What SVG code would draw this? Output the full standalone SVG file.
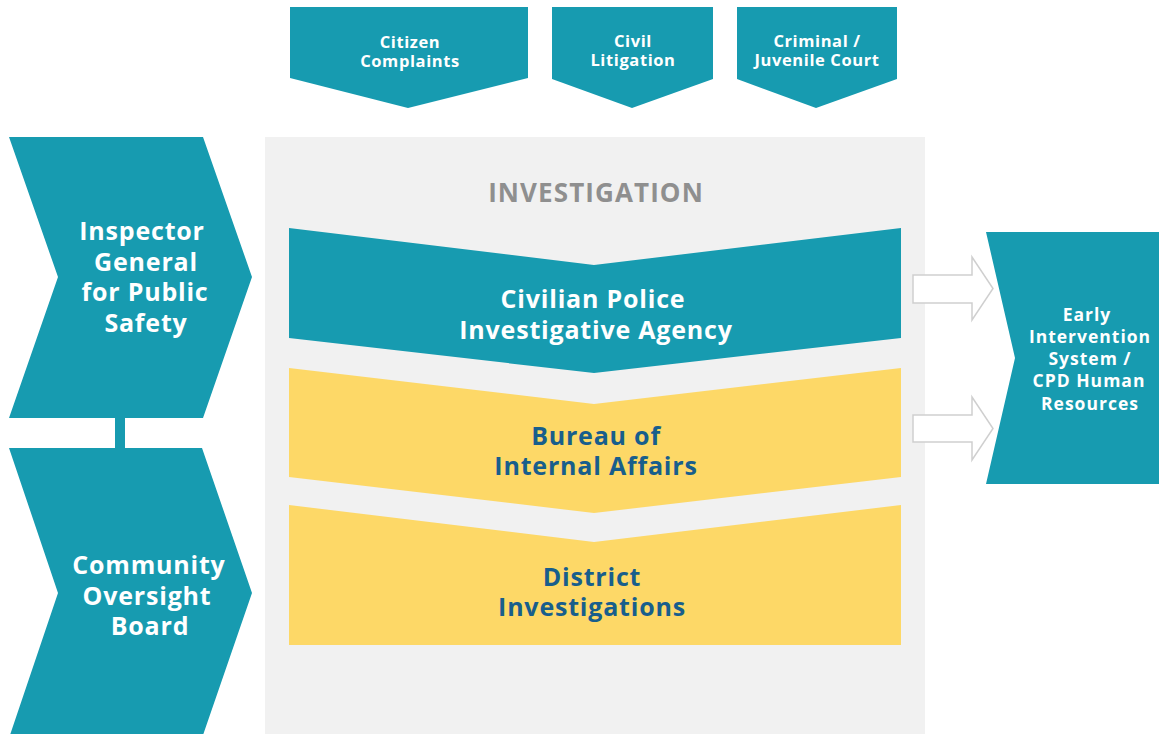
<svg xmlns="http://www.w3.org/2000/svg" width="1159" height="734" viewBox="0 0 1159 734">
<style>
.teal{fill:#179bb0}
.yellow{fill:#fdd867}
.w{font-family:"Open Sans","Liberation Sans",sans-serif;font-weight:700;fill:#ffffff;text-anchor:middle}
.b{font-family:"Open Sans","Liberation Sans",sans-serif;font-weight:700;fill:#185e8c;text-anchor:middle}
.lg{font-size:25px;letter-spacing:0.8px}
.sm{font-size:16.5px;letter-spacing:0.6px}
.md{font-size:17.5px;letter-spacing:1px}
.arrow{fill:#ffffff;stroke:#cfcfcf;stroke-width:1.5}
</style>
<rect width="1159" height="734" fill="#ffffff"/>
<rect id="panel" x="265" y="137" width="660" height="600" fill="#f1f1f1"/>
<text x="596" y="202" font-family="'Open Sans','Liberation Sans',sans-serif" font-weight="700" font-size="26" letter-spacing="1.1" fill="#8f8f8f" text-anchor="middle">INVESTIGATION</text>
<g id="connectors">
<rect x="115" y="416" width="10" height="34" class="teal"/>
<path class="arrow" d="M913,275 H972 V257 L993,288.5 L972,320 V303 H913 Z"/>
<path class="arrow" d="M913,415 H972 V397 L993,428.5 L972,460 V442 H913 Z"/>
</g>
<g id="citizen">
<polygon class="teal" points="290,7 528,7 528,78 408,108 290,78"/>
<text class="w sm" x="410" y="48">Citizen</text>
<text class="w sm" x="410" y="67">Complaints</text>
</g>
<g id="civil">
<polygon class="teal" points="552,7 713,7 713,79 632,108 552,79"/>
<text class="w sm" x="633" y="47">Civil</text>
<text class="w sm" x="633" y="66">Litigation</text>
</g>
<g id="criminal">
<polygon class="teal" points="737,7 897,7 897,79 816,108 737,79"/>
<text class="w sm" x="817" y="47">Criminal /</text>
<text class="w sm" x="817" y="66">Juvenile Court</text>
</g>
<g id="inspector">
<polygon class="teal" points="9,137 203,137 252,277 203,418 9,418 58,277"/>
<text class="w lg" x="142" y="240">Inspector</text>
<text class="w lg" x="146" y="271">General</text>
<text class="w lg" x="145" y="301">for Public</text>
<text class="w lg" x="146" y="332">Safety</text>
</g>
<g id="community">
<polygon class="teal" points="9,448 202,448 252,593 202,738 9,738 58,593"/>
<text class="w lg" x="149" y="574">Community</text>
<text class="w lg" x="147" y="605">Oversight</text>
<text class="w lg" x="150" y="635">Board</text>
</g>
<g id="cpia">
<polygon class="teal" points="289,228 594,265 901,228 901,338 594,373 289,338"/>
<text class="w lg" x="593" y="308">Civilian Police</text>
<text class="w lg" x="596" y="339">Investigative Agency</text>
</g>
<g id="bia">
<polygon class="yellow" points="289,368 594,404 901,368 901,477 594,513 289,477"/>
<text class="b lg" x="596" y="445">Bureau of</text>
<text class="b lg" x="596" y="475">Internal Affairs</text>
</g>
<g id="district">
<polygon class="yellow" points="289,505 594,542 901,505 901,645 289,645"/>
<text class="b lg" x="592" y="586">District</text>
<text class="b lg" x="592" y="616">Investigations</text>
</g>
<g id="eis">
<polygon class="teal" points="986,232 1165,232 1165,484 986,484 1015,358"/>
<text class="w md" x="1087" y="321">Early</text>
<text class="w md" x="1090" y="343">Intervention</text>
<text class="w md" x="1090" y="365">System /</text>
<text class="w md" x="1089" y="387">CPD Human</text>
<text class="w md" x="1090" y="410">Resources</text>
</g>
</svg>
